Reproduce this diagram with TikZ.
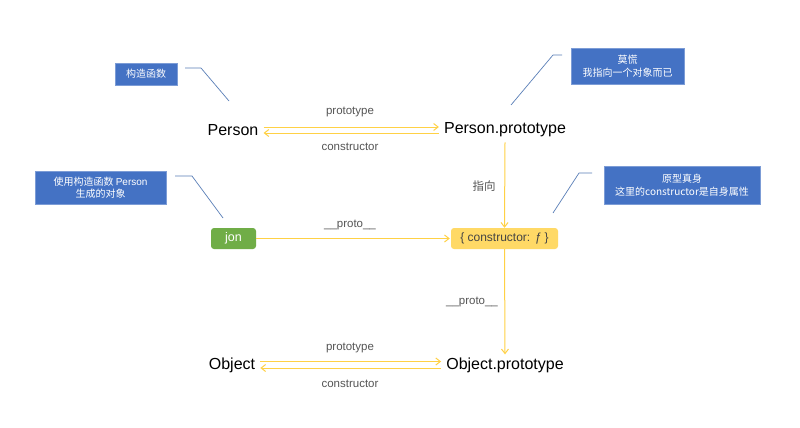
\documentclass[tikz,border=0pt]{standalone}
\usepackage{fontspec}
\setmainfont{Liberation Sans}
\newfontfamily\cjk{Noto Sans CJK SC}
\usetikzlibrary{arrows.meta}
\definecolor{boxblue}{HTML}{4472C4}
\definecolor{lineblue}{HTML}{5A7FB8}
\definecolor{arrowyellow}{HTML}{FFD145}
\definecolor{fillyellow}{HTML}{FFD966}
\definecolor{jongreen}{HTML}{70AD47}
\definecolor{labelgray}{HTML}{555555}
\tikzset{
  x=1pt,y=-1pt,
  callbox/.style={fill=boxblue,draw=boxblue!70!white,text=white,inner sep=0pt,align=center,font=\cjk\fontsize{10}{12.5}\selectfont},
  main/.style={inner sep=0pt,font=\fontsize{16}{18}\selectfont,text=black},
  lbl/.style={inner sep=0pt,font=\fontsize{11.5}{14}\selectfont,text=labelgray},
  yarrow/.style={draw=arrowyellow,line width=1pt,-{Straight Barb[length=4.5pt,width=7pt]}},
  callout/.style={draw=lineblue,line width=0.7pt},
}
\begin{document}
\begin{tikzpicture}
\useasboundingbox (0,0) rectangle (800,428);
\fill[white] (0,0) rectangle (800,428);

% main nodes
\node[main] (person) at (233,130) {Person};
\node[main] (pproto) at (505,130) {Person.prototype};
\node[main] (object) at (232,365) {Object};
\node[main] (oproto) at (505,365) {Object.prototype};
\node[fill=jongreen,rounded corners=3pt,minimum width=45pt,minimum height=21pt,inner sep=0pt,text=white,font=\fontsize{12.5}{14}\selectfont] (jon) at (233.5,238.5) {jon};
\node[fill=fillyellow,rounded corners=3pt,minimum width=107pt,minimum height=21pt,inner sep=0pt,text=labelgray!80!black,font=\fontsize{12}{14}\selectfont] (ctor) at (504.5,238.5) {\{ constructor: \textit{ƒ} \}};

% callout boxes
\node[callbox,minimum width=62pt,minimum height=22pt] (c1) at (146,74) {构造函数};
\node[callbox,minimum width=113pt,minimum height=36pt] (c2) at (627.5,66) {莫慌\\我指向一个对象而已};
\node[callbox,minimum width=131pt,minimum height=33pt] (c3) at (100.5,187.5) {使用构造函数 {\fontspec{Liberation Sans}Person}\\生成的对象};
\node[callbox,minimum width=156pt,minimum height=38pt] (c4) at (682,185) {原型真身\\这里的constructor是自身属性};

% callout lines
\coordinate (c1a) at (185,68); \coordinate (c1b) at (201,68); \coordinate (c1c) at (229,101);
\coordinate (c2a) at (562,55); \coordinate (c2b) at (553,55); \coordinate (c2c) at (511,105);
\coordinate (c3a) at (175,176); \coordinate (c3b) at (192,176); \coordinate (c3c) at (223,218);
\coordinate (c4a) at (592,173); \coordinate (c4b) at (579,173); \coordinate (c4c) at (553,213);
\draw[callout] (c1a) -- (c1b) -- (c1c);
\draw[callout] (c2a) -- (c2b) -- (c2c);
\draw[callout] (c3a) -- (c3b) -- (c3c);
\draw[callout] (c4a) -- (c4b) -- (c4c);

% Person <-> Person.prototype
\draw[yarrow] ([xshift=5pt,yshift=3pt]person.east) -- ([xshift=-5pt,yshift=3pt]pproto.west);
\draw[yarrow] ([xshift=-5pt,yshift=-3pt]pproto.west) -- ([xshift=5pt,yshift=-3pt]person.east);
\node[lbl] (l1) at (350,112) {prototype};
\node[lbl] (l2) at (350,147) {constructor};

% Person.prototype -> ctor
\draw[yarrow] ([yshift=-5pt]pproto.south) -- (ctor.north);
\node[font=\cjk\fontsize{11.5}{14}\selectfont,text=labelgray,inner sep=0pt] (l3) at (484,186) {指向};

% jon -> ctor
\draw[yarrow] (jon.east) -- ([xshift=-1pt]ctor.west);
\node[lbl] (l4) at (350,225) {\_\_proto\_\_};

% ctor -> Object.prototype
\draw[yarrow] (ctor.south) -- ([yshift=3pt]oproto.north);
\node[lbl] (l5) at (472,302) {\_\_proto\_\_};

% Object <-> Object.prototype
\draw[yarrow] ([xshift=5pt,yshift=3.5pt]object.east) -- ([xshift=-5pt,yshift=3.5pt]oproto.west);
\draw[yarrow] ([xshift=-5pt,yshift=-3pt]oproto.west) -- ([xshift=5pt,yshift=-3pt]object.east);
\node[lbl] (l6) at (350,348) {prototype};
\node[lbl] (l7) at (350,384) {constructor};
\end{tikzpicture}
\end{document}
